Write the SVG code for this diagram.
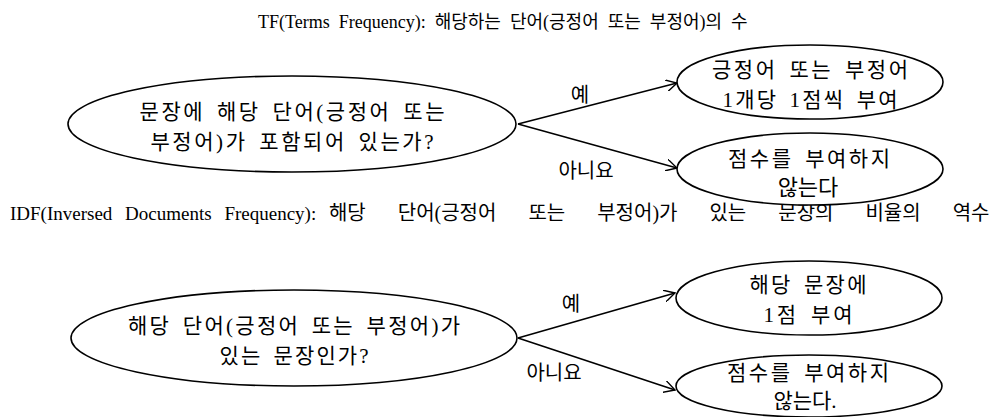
<svg xmlns="http://www.w3.org/2000/svg" width="1006" height="417" viewBox="0 0 1006 417">
<defs>
<style>
text{font-family:"Liberation Serif","Noto Sans CJK KR",serif;fill:#000;}
.t{font-size:18px;}
.n{font-size:21px;text-anchor:middle;word-spacing:4px;}
.l{font-size:20px;text-anchor:middle;}
ellipse{fill:#fff;stroke:#000;stroke-width:1.6;}
.c line{stroke:#000;stroke-width:1.6;}
</style>
<marker id="ah" viewBox="0 0 12 12" refX="11" refY="6" markerWidth="12" markerHeight="12" markerUnits="userSpaceOnUse" orient="auto">
<path d="M0,0 L11,6 L0,12" fill="none" stroke="#000" stroke-width="1.4"/>
</marker>
</defs>
<rect width="1006" height="417" fill="#fff"/>
<text id="title1" class="t" x="258" y="28" style="word-spacing:4.5px">TF(Terms Frequency): 해당하는 단어(긍정어 또는 부정어)의 수</text>
<text id="title2" x="10" y="220" style="font-size:19px;word-spacing:8px">IDF(Inversed Documents Frequency): <tspan style="font-size:20px;word-spacing:27px">해당 단어(긍정어 또는 부정어)가 있는 문장의 비율의 역수</tspan></text>
<g class="c" id="connectors">
<line x1="518" y1="124" x2="677" y2="83" marker-end="url(#ah)"/>
<line x1="518" y1="124" x2="677" y2="168" marker-end="url(#ah)"/>
<line x1="518" y1="338" x2="675" y2="293" marker-end="url(#ah)"/>
<line x1="518" y1="338" x2="675" y2="390" marker-end="url(#ah)"/>
<text class="l" x="580" y="102">예</text>
<text class="l" x="586" y="178">아니요</text>
<text class="l" x="571" y="311">예</text>
<text class="l" x="554" y="380">아니요</text>
</g>
<g id="q1">
<ellipse cx="292" cy="124" rx="224" ry="48"/>
<text class="n" x="292" y="119" textLength="305" lengthAdjust="spacing">문장에 해당 단어(긍정어 또는</text>
<text class="n" x="292" y="149" textLength="283" lengthAdjust="spacing">부정어)가 포함되어 있는가?</text>
</g>
<g id="yes1">
<ellipse cx="810" cy="82" rx="133" ry="37"/>
<text class="n" x="810" y="77" textLength="196" lengthAdjust="spacing">긍정어 또는 부정어</text>
<text class="n" x="810" y="107" textLength="175" lengthAdjust="spacing">1개당 1점씩 부여</text>
</g>
<g id="no1">
<ellipse cx="810" cy="169" rx="133" ry="36"/>
<text class="n" x="809" y="166" textLength="162" lengthAdjust="spacing">점수를 부여하지</text>
<text class="n" x="808" y="195" style="font-size:22px">않는다</text>
</g>
<g id="q2">
<ellipse cx="294" cy="338" rx="223" ry="48"/>
<text class="n" x="294" y="333" textLength="332" lengthAdjust="spacing">해당 단어(긍정어 또는 부정어)가</text>
<text class="n" x="294" y="363" textLength="149" lengthAdjust="spacing">있는 문장인가?</text>
</g>
<g id="yes2">
<ellipse cx="809" cy="298" rx="133" ry="37"/>
<text class="n" x="808" y="292" textLength="117" lengthAdjust="spacing">해당 문장에</text>
<text class="n" x="808" y="322" textLength="89" lengthAdjust="spacing">1점 부여</text>
</g>
<g id="no2">
<ellipse cx="809" cy="386" rx="133" ry="31"/>
<text class="n" x="808" y="380" textLength="162" lengthAdjust="spacing">점수를 부여하지</text>
<text class="n" x="805" y="408">않는다.</text>
</g>
</svg>
